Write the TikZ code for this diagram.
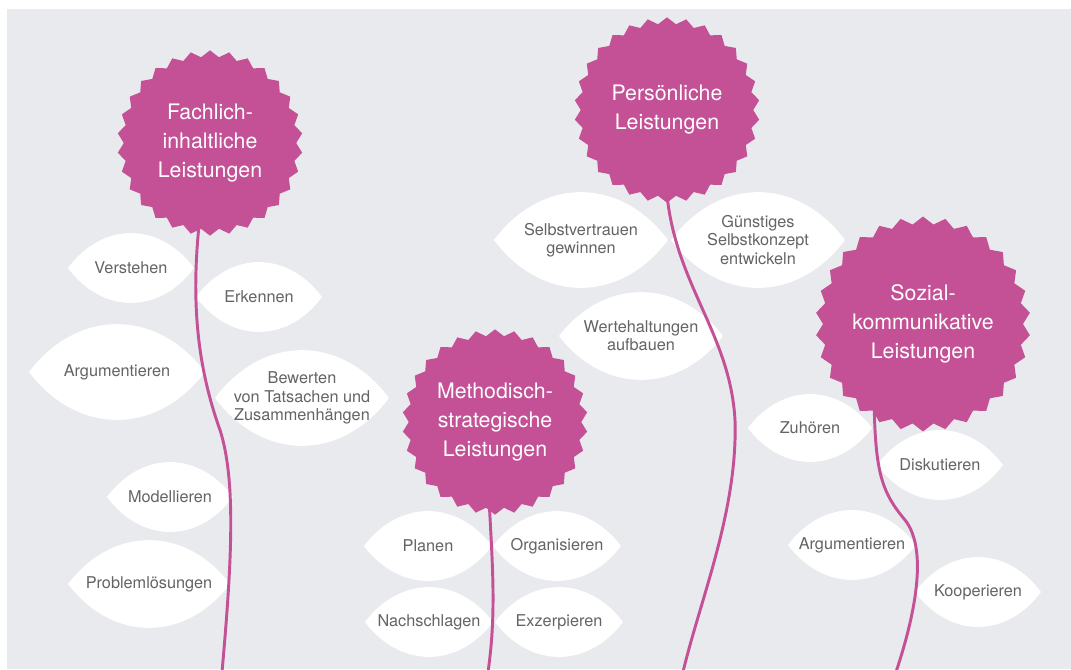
\documentclass[tikz,border=0pt]{standalone}
\usepackage{fontspec}
\setmainfont{TeX Gyre Heros}
\usetikzlibrary{shapes.geometric}

\definecolor{rose}{RGB}{196,80,150}
\definecolor{paper}{RGB}{233,234,238}
\definecolor{leafgray}{RGB}{100,100,100}

\pgfdeclarelayer{back}
\pgfdeclarelayer{stems}
\pgfsetlayers{back,stems,main}

\newcommand{\leaf}[5]{%
	\fill[white, shift={(#2)}, xscale=#3, yscale=#4] (-1,0) .. controls (-0.45,-1.33) and (0.45,-1.33) .. (1,0) .. controls (0.45,1.33) and (-0.45,1.33) .. (-1,0) -- cycle;
	\node[leaftext] (#1) at (#2) {#5};
}

\begin{document}
\begin{tikzpicture}[x=0.75pt, y=-0.75pt,
	flower/.style={star, star points=30, star point ratio=1.075, fill=rose, minimum size=139pt, inner sep=0pt, text=white, align=center, font=\fontsize{16}{21.75}\selectfont},
	leaftext/.style={text=leafgray, align=center, inner sep=0pt, font=\fontsize{12.2}{13.7}\selectfont},
	stem/.style={rose, line width=2.2pt}]

		\useasboundingbox (0,0) rectangle (1071,669);

		\begin{pgfonlayer}{back}
		\fill[paper] (7,9) rectangle (1071,669);

		\leaf{verstehen}{131,268}{63}{35}{Verstehen}
		\leaf{erkennen}{259,297}{63}{35}{Erkennen}
		\leaf{argumentierenA}{117,372}{88}{48}{Argumentieren}
		\leaf{bewerten}{302,398}{87}{48}{Bewerten\\von Tatsachen und\\Zusammenhängen}
		\leaf{modellieren}{170,497}{63}{35}{Modellieren}
		\leaf{problem}{149,584}{81}{44}{Problemlösungen}

		\leaf{selbstvertrauen}{581,240}{87}{48}{Selbstvertrauen\\gewinnen}
		\leaf{selbstkonzept}{758,240}{87}{48}{Günstiges\\Selbstkonzept\\entwickeln}
		\leaf{werte}{641,336}{82}{44}{Wertehaltungen\\aufbauen}

		\leaf{planen}{428,546}{64}{35}{Planen}
		\leaf{organisieren}{557,546}{64}{35}{Organisieren}
		\leaf{nachschlagen}{429,622}{64}{35}{Nachschlagen}
		\leaf{exzerpieren}{559,622}{64}{35}{Exzerpieren}

		\leaf{zuhoeren}{810,428}{62}{34}{Zuhören}
		\leaf{diskutieren}{940,465}{63}{35}{Diskutieren}
		\leaf{argumentierenB}{852,545}{64}{35}{Argumentieren}
		\leaf{kooperieren}{978,592}{63}{35}{Kooperieren}
		\end{pgfonlayer}

		\node[flower] (fach) at (210,143) {Fachlich-\\inhaltliche\\Leistungen};
		\node[flower] (persoenlich) at (667,110) {Persönliche\\Leistungen};
		\node[flower] (method) at (495,422) {Methodisch-\\strategische\\Leistungen};
		\node[flower] (sozial) at (923,324) {Sozial-\\kommunikative\\Leistungen};

		\coordinate (fachEnd) at (222,672);
		\coordinate (persoenlichEnd) at (683,672);
		\coordinate (methodEnd) at (488,672);
		\coordinate (sozialEnd) at (896,672);

		\begin{pgfonlayer}{stems}
		\draw[stem] (fach.center) -- (202,200) .. controls (190,290) and (195,360) .. (220,430) .. controls (236,480) and (232,560) .. (fachEnd);
		\draw[stem] (persoenlich.center) -- (666,180) .. controls (670,280) and (730,330) .. (735,420) .. controls (738,510) and (700,600) .. (persoenlichEnd);
		\draw[stem] (method.center) -- (488,480) .. controls (492,560) and (497,610) .. (methodEnd);
		\draw[stem] (sozial.center) -- (874,380) .. controls (874,470) and (880,490) .. (905,520) .. controls (925,545) and (920,600) .. (sozialEnd);
		\end{pgfonlayer}
	\end{tikzpicture}
\end{document}
